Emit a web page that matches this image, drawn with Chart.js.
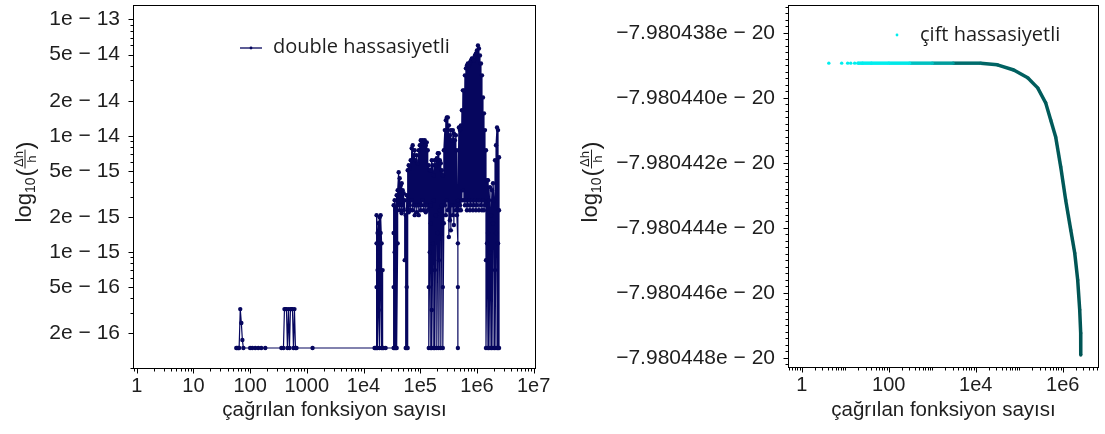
<!DOCTYPE html>
<html>
<head>
<meta charset="utf-8">
<script src="https://cdn.jsdelivr.net/npm/chart.js@4/dist/chart.umd.min.js"></script>
<style>
  body { margin: 0; background: #fff; }
  #wrap { position: relative; width: 1105px; height: 434px; }
  canvas { position: absolute; top: 0; }
</style>
</head>
<body>
<div id="wrap">
  <canvas id="left" width="552" height="434" style="left:0;width:552px;height:434px"></canvas>
  <canvas id="right" width="553" height="434" style="left:552px;width:553px;height:434px"></canvas>
</div>
<script>
// left panel: function-call count and the values visited at that count (in order)
const leftCalls = [57, 59, 62, 64, 67, 70, 73, 76, 100, 109, 123, 139, 157, 185,
  356, 387, 403, 420, 437, 455, 474, 494, 514, 536, 558, 581, 605, 630, 657, 1262,
  15650, 16310, 16990, 17690, 18430, 19200, 20000, 20830, 21700, 22600, 24520,
  33960, 35380, 36850, 38380, 39980, 41640, 43370, 45180, 47060, 49010, 51050,
  53180, 55390, 57690, 60090, 62590, 65200, 67910, 70730, 73680, 76740, 79930,
  83260, 86720, 90330, 94080, 98000, 102050, 106300, 110700, 115300, 120100,
  125100, 130300, 135700, 141400, 147300, 153400, 159800, 166400, 173400, 180600,
  188100, 195900, 204100, 212600, 221400, 230600, 240200, 250200, 260600, 271500,
  282800, 294400, 306700, 319500, 332800, 346600, 361000, 376100, 391700, 408000,
  425000, 442600, 461000, 480200, 500200, 521100, 542800, 565300, 588900, 613300,
  638900, 665400, 693100, 722000, 752000, 783300, 815900, 849900, 885200, 922000,
  960000, 1000000, 1041600, 1084900, 1130000, 1177000, 1226000, 1277000, 1330000,
  1385000, 1443000, 1503000, 1565000, 1630000, 1698000, 1769000, 1843000, 1920000,
  2000000, 2083000, 2170000, 2260000, 2354000, 2452000];

const leftErr = [
  [1.5e-16], [1.5e-16], [1.5e-16], [1.5e-16], [3.24e-16], [2.46e-16], [1.76e-16], [1.5e-16],
  [1.5e-16], [1.5e-16], [1.5e-16], [1.5e-16], [1.5e-16], [1.5e-16],
  [1.5e-16], [1.5e-16], [3.24e-16], [3.24e-16], [3.24e-16], [1.5e-16], [3.24e-16], [1.5e-16],
  [3.24e-16], [3.24e-16], [3.24e-16], [1.5e-16], [3.24e-16], [1.5e-16], [1.5e-16], [1.5e-16],
  [1.5e-16], [1.5e-16],
  [1.5e-16, 5.01e-16, 1.19e-15, 2.08e-15], [1.46e-15, 7.01e-16, 1.5e-16],
  [3.18e-16, 1.0e-15, 1.77e-15], [2.0e-15, 8.54e-16, 1.5e-16], [5.01e-16, 1.46e-15, 2.08e-15],
  [1.19e-15, 1.5e-16], [7.01e-16, 1.5e-16], [1.5e-16], [1.5e-16],
  [1.5e-16, 5.01e-16, 1.46e-15, 2.53e-15], [1.5e-16, 1.0e-15, 2.79e-15],
  [1.5e-16, 7.01e-16, 2.29e-15], [3.09e-15, 1.5e-16], [1.19e-15, 3.41e-15],
  [4.86e-15, 2.53e-15], [4.32e-15, 2.29e-15], [3.76e-15, 2.53e-15], [3.91e-15, 2.16e-15],
  [3.41e-15, 2.53e-15], [3.21e-15, 2.29e-15],
  [2.79e-15, 8.54e-16], [2.08e-15, 1.5e-16], [3.09e-15, 5.01e-16, 1.5e-16],
  [1.5e-16, 2.29e-15, 5.06e-15, 2.39e-15], [5.58e-15, 2.2e-15], [5.26e-15, 2.53e-15],
  [6.16e-15, 2.29e-15], [7.81e-15, 2.79e-15], [8.29e-15, 2.29e-15], [6.8e-15, 2.53e-15],
  [7.51e-15, 2.08e-15], [6.16e-15, 2.53e-15], [6.8e-15, 2.2e-15], [5.81e-15, 2.53e-15],
  [7.51e-15, 2.08e-15], [8.29e-15, 2.53e-15], [9.15e-15, 2.29e-15], [8.62e-15, 2.53e-15],
  [9.15e-15, 2.79e-15], [8.97e-15, 2.29e-15], [9.15e-15, 2.53e-15], [8.29e-15, 2.2e-15],
  [8.79e-15, 2.53e-15], [7.51e-15, 2.29e-15],
  [5.58e-15, 5.01e-16, 1.5e-16], [1.0e-15, 5.06e-15], [2.53e-15, 1.5e-16, 1.77e-15, 5.06e-15],
  [6.16e-15, 3.18e-16, 1.5e-16], [1.19e-15, 5.58e-15], [4.58e-15, 1.5e-16, 2.79e-15],
  [6.16e-15, 7.01e-16, 1.5e-16], [2.08e-15, 5.58e-15], [6.41e-15, 1.5e-16],
  [1.46e-15, 7.08e-15], [7.08e-15, 8.54e-16, 1.5e-16], [2.29e-15, 6.16e-15],
  [5.81e-15, 1.5e-16], [2.53e-15, 5.06e-15], [4.58e-15, 5.01e-16, 1.5e-16],
  [1.77e-15, 7.51e-15],
  [1.12e-14, 2.53e-15], [1.36e-14, 2.08e-15], [1.44e-14, 2.79e-15], [1.44e-14, 2.29e-15],
  [1.23e-14, 1.35e-15], [1.01e-14, 1.88e-15], [1.12e-14, 1.54e-15], [9.15e-15, 2.53e-15],
  [1.12e-14, 2.08e-15], [1.05e-14, 1.71e-15], [9.15e-15, 2.53e-15], [1.01e-14, 2.29e-15],
  [7.51e-15, 2.08e-15], [1.19e-15, 1.5e-16, 5.01e-16, 2.79e-15],
  [1.18e-14, 2.29e-15], [1.12e-14, 2.53e-15], [1.23e-14, 2.29e-15], [1.66e-14, 2.79e-15],
  [2.46e-14, 3.41e-15], [2.46e-14, 2.79e-15], [3.31e-14, 2.53e-15],
  [3.8e-14, 2.79e-15], [4.03e-14, 2.29e-15], [4.19e-14, 2.53e-15], [4.03e-14, 2.79e-15],
  [4.28e-14, 2.29e-15], [4.45e-14, 2.53e-15], [4.63e-14, 2.79e-15], [4.63e-14, 2.29e-15],
  [4.45e-14, 2.53e-15], [4.91e-14, 2.79e-15], [5.11e-14, 2.29e-15], [5.42e-14, 2.53e-15],
  [5.98e-14, 2.79e-15], [5.64e-14, 2.29e-15], [4.91e-14, 2.79e-15], [4.19e-14, 2.53e-15],
  [3.31e-14, 2.29e-15], [2.14e-14, 2.79e-15], [1.56e-14, 2.29e-15], [1.12e-14, 2.53e-15],
  [7.51e-15, 8.54e-16, 1.5e-16], [1.19e-15, 4.15e-15], [1.5e-16, 1.46e-15, 4.15e-15],
  [2.79e-15, 1.5e-16], [1.0e-15, 3.61e-15], [1.5e-16, 2.08e-15], [3.41e-15, 1.5e-16],
  [1.77e-15, 3.91e-15], [2.79e-15, 1.5e-16],
  [7.01e-16, 6.16e-15, 1.5e-16], [1.46e-15, 8.29e-15], [1.18e-14, 1.5e-16],
  [1.19e-15, 1.12e-14, 1.5e-16], [2.29e-15, 6.54e-15, 1.5e-16]
];

// right panel
const rightCalls = [4.2, 8.3, 11.4, 13.4, 16.5, 19.4, 25, 40, 100, 300, 1000, 3000, 13000,
  31500, 75000, 157000, 266000, 406000, 530000, 690000, 900000, 1170000, 1530000,
  1890000, 2210000, 2460000, 2590000, 2600000];
const rightVal = [-7.98043893e-20, -7.98043893e-20, -7.98043893e-20, -7.98043893e-20,
  -7.98043893e-20, -7.98043893e-20, -7.98043893e-20, -7.98043893e-20, -7.98043893e-20,
  -7.98043893e-20, -7.98043893e-20, -7.98043893e-20, -7.98043893e-20,
  -7.98043898e-20, -7.98043914e-20, -7.98043938e-20, -7.98043969e-20, -7.98044015e-20,
  -7.98044068e-20, -7.9804412e-20, -7.98044212e-20, -7.98044314e-20, -7.98044406e-20,
  -7.98044477e-20, -7.9804456e-20, -7.98044652e-20, -7.98044723e-20, -7.98044791e-20];

const leftXTicks = [1, 10, 100, 1000, 1e4, 1e5, 1e6, 1e7];
const leftXLabels = ['1', '10', '100', '1000', '1e4', '1e5', '1e6', '1e7'];
const leftYTicks = [2e-16, 5e-16, 1e-15, 2e-15, 5e-15, 1e-14, 2e-14, 5e-14, 1e-13];
const rightXTicks = [1, 100, 1e4, 1e6];
const rightXLabels = ['1', '100', '1e4', '1e6'];
const rightYTicks = [-7.980438e-20, -7.98044e-20, -7.980442e-20, -7.980444e-20, -7.980446e-20, -7.980448e-20];

const NAVY = '#06065e';
const INK = '#1e1e1e';
const SANS = '"Liberation Sans", Arial, sans-serif';

function expLabel(v) {
  const [m, e] = v.toExponential(0).split('e');
  return m + 'e \u2212 ' + Math.abs(+e);
}
function bigLabel(v) {
  return '\u2212' + (-v / 1e-20).toFixed(6) + 'e \u2212 20';
}
function isIn(list, v) {
  return list.some(m => Math.abs(m - v) <= Math.abs(m) * 1e-9);
}
function logMinors(min, max, majors) {
  const out = [];
  for (let e = Math.floor(Math.log10(min)); e <= Math.ceil(Math.log10(max)); e++) {
    for (let k = 1; k < 10; k++) {
      const v = k * Math.pow(10, e);
      if (v >= min && v <= max && !isIn(majors, v)) out.push(v);
    }
  }
  return out;
}
function tealAt(x) {
  const lx = Math.log10(x);
  const t = Math.min(1, Math.max(0, (lx - 2.4) / 1.8));
  const u = Math.min(1, Math.max(0, (lx - 4.2) / 2.2));
  const g = Math.round(238 - 135 * t - 18 * u);
  return 'rgb(0,' + g + ',' + g + ')';
}

function drawLogTitle(ctx, cx, cy) {
  ctx.save();
  ctx.translate(cx, cy);
  ctx.rotate(-Math.PI / 2);
  ctx.fillStyle = INK;
  ctx.textAlign = 'left';
  ctx.textBaseline = 'alphabetic';
  const f = s => s + 'px ' + SANS;
  ctx.font = f(22); const wLog = ctx.measureText('log').width;
  ctx.font = f(14); const wSub = ctx.measureText('10').width;
  ctx.font = f(24); const wPar = ctx.measureText('(').width;
  ctx.font = f(13); const wNum = ctx.measureText('\u0394h').width, wDen = ctx.measureText('h').width;
  const wFr = Math.max(wNum, wDen) + 3;
  let x = -(wLog + wSub + 1 + 2 * wPar + wFr) / 2;
  ctx.font = f(22); ctx.fillText('log', x, 7); x += wLog;
  ctx.font = f(14); ctx.fillText('10', x, 11); x += wSub + 1;
  ctx.font = f(24); ctx.fillText('(', x, 9); x += wPar;
  ctx.font = f(13);
  ctx.fillText('\u0394h', x + (wFr - wNum) / 2, -1);
  ctx.fillRect(x, 1, wFr, 1);
  ctx.fillText('h', x + (wFr - wDen) / 2, 12);
  x += wFr;
  ctx.font = f(24); ctx.fillText(')', x, 9);
  ctx.restore();
}

const frame = {
  id: 'frame',
  afterDraw(chart, args, o) {
    const { ctx, chartArea: a } = chart;
    const xs = chart.scales.x, ys = chart.scales.y;
    const L = Math.round(a.left) + 0.5, R = Math.round(a.right) - 0.5;
    const T = Math.round(a.top) + 0.5, B = Math.round(a.bottom) - 0.5;
    ctx.save();
    ctx.strokeStyle = '#000';
    ctx.lineWidth = 1;
    ctx.beginPath();
    const xm = (v, len) => { const p = Math.round(xs.getPixelForValue(v)) + 0.5; ctx.moveTo(p, B); ctx.lineTo(p, B + len); };
    const ym = (v, len) => { const p = Math.round(ys.getPixelForValue(v)) + 0.5; ctx.moveTo(L, p); ctx.lineTo(L - len, p); };
    o.xMajor.forEach(v => xm(v, 5));
    o.xMinor.forEach(v => xm(v, 3));
    o.yMajor.forEach(v => ym(v, 5));
    o.yMinor.forEach(v => ym(v, 3));
    ctx.stroke();
    ctx.strokeRect(L, T, R - L, B - T);

    // axis titles
    ctx.fillStyle = INK;
    ctx.font = '20.5px ' + SANS;
    ctx.textAlign = 'center';
    ctx.textBaseline = 'alphabetic';
    ctx.fillText('\u00e7a\u011fr\u0131lan fonksiyon say\u0131s\u0131', (a.left + a.right) / 2, 416);
    drawLogTitle(ctx, o.yTitleX, 182);

    // legend
    const lg = o.legend;
    ctx.textAlign = 'left';
    ctx.font = '20px "Open Sans", sans-serif';
    ctx.fillText(lg.text, lg.textX, lg.textY);
    if (lg.line) {
      ctx.strokeStyle = lg.color;
      ctx.lineWidth = 1.3;
      ctx.beginPath();
      ctx.moveTo(lg.x - 11, lg.y); ctx.lineTo(lg.x + 11, lg.y);
      ctx.stroke();
    }
    ctx.fillStyle = lg.color;
    ctx.beginPath();
    ctx.arc(lg.x, lg.y, 1.4, 0, Math.PI * 2);
    ctx.fill();
    ctx.restore();
  }
};

// fixed ticks, and keep the requested range (no rounding out to ticks)
function pinTicks(ticks, min, max) {
  return s => {
    s.ticks = ticks.map(v => ({ value: v }));
    s.min = min;
    s.max = max;
  };
}
// fixed axis size and no extra room for overhanging labels
function pinSize(key, size) {
  return s => {
    s[key] = size;
    s.paddingTop = 0; s.paddingBottom = 0; s.paddingLeft = 0; s.paddingRight = 0;
  };
}

function axisX(min, max, ticks, labels, height) {
  return {
    type: 'logarithmic', min, max, bounds: 'data',
    grid: { display: false, drawTicks: false },
    border: { display: false },
    afterBuildTicks: pinTicks(ticks, min, max),
    afterFit: pinSize('height', height),
    ticks: {
      autoSkip: false, maxRotation: 0, padding: 5, color: INK,
      font: { family: SANS, size: 20 },
      callback: (v, i) => labels[i]
    }
  };
}

// left chart
const leftPts = [];
leftCalls.forEach((x, i) => leftErr[i].forEach(y => leftPts.push({ x, y })));
const lxMin = 0.86, lxMax = 1.1e7, lyMin = 0.99e-16, lyMax = 1.332e-13;

new Chart(document.getElementById('left'), {
  type: 'scatter',
  data: {
    datasets: [{
      label: 'double hassasiyetli',
      data: leftPts,
      showLine: true,
      borderColor: NAVY,
      borderWidth: 1.2,
      pointRadius: 2.2,
      pointBorderWidth: 0,
      pointBackgroundColor: NAVY
    }]
  },
  options: {
    responsive: false,
    animation: false,
    layout: { padding: { left: 0, top: 5, right: 16, bottom: 0 } },
    scales: {
      x: axisX(lxMin, lxMax, leftXTicks, leftXLabels, 65),
      y: {
        type: 'logarithmic', min: lyMin, max: lyMax, bounds: 'data',
        grid: { display: false, drawTicks: false },
        border: { display: false },
        afterBuildTicks: pinTicks(leftYTicks, lyMin, lyMax),
        afterFit: pinSize('width', 133),
        ticks: { padding: 13, color: INK, font: { family: SANS, size: 21 }, callback: v => expLabel(v) }
      }
    },
    plugins: {
      legend: { display: false },
      tooltip: { enabled: false },
      frame: {
        xMajor: leftXTicks,
        xMinor: logMinors(lxMin, lxMax, leftXTicks),
        yMajor: leftYTicks,
        yMinor: logMinors(lyMin, lyMax, leftYTicks),
        yTitleX: 23.5,
        legend: { text: 'double hassasiyetli', x: 251, y: 48, textX: 273, textY: 53, color: NAVY, line: true }
      }
    }
  },
  plugins: [frame]
});

// right chart
const rightPts = rightCalls.map((x, i) => ({ x, y: rightVal[i] }));
const rxMin = 0.484, rxMax = 6.83e6, ryMin = -7.98044831e-20, ryMax = -7.98043714e-20;
const rightYMinor = [];
for (let i = -6; i <= 56; i++) {
  const v = -7.980438e-20 - i * 0.2e-26;
  if (i % 10 !== 0 && v >= ryMin && v <= ryMax) rightYMinor.push(v);
}

new Chart(document.getElementById('right'), {
  type: 'scatter',
  data: {
    datasets: [{
      label: '\u00e7ift hassasiyetli',
      data: rightPts,
      showLine: true,
      borderWidth: 3.5,
      borderColor: 'rgb(0,100,100)',
      segment: {
        borderColor: s => rightCalls[s.p0DataIndex] < 17 ? 'rgba(0,0,0,0)' : tealAt(rightCalls[s.p1DataIndex])
      },
      pointRadius: 1.7,
      pointBorderWidth: 0,
      pointBackgroundColor: c => tealAt(rightCalls[c.dataIndex] || 1)
    }]
  },
  options: {
    responsive: false,
    animation: false,
    layout: { padding: { left: 0, top: 5, right: 6, bottom: 0 } },
    scales: {
      x: axisX(rxMin, rxMax, rightXTicks, rightXLabels, 66),
      y: {
        type: 'linear', min: ryMin, max: ryMax, bounds: 'data',
        grid: { display: false, drawTicks: false },
        border: { display: false },
        afterBuildTicks: pinTicks(rightYTicks, ryMin, ryMax),
        afterFit: pinSize('width', 236),
        ticks: { padding: 13, color: INK, font: { family: SANS, size: 21 }, callback: v => bigLabel(v) }
      }
    },
    plugins: {
      legend: { display: false },
      tooltip: { enabled: false },
      frame: {
        xMajor: rightXTicks,
        xMinor: logMinors(rxMin, rxMax, rightXTicks),
        yMajor: rightYTicks,
        yMinor: rightYMinor,
        yTitleX: 38,
        legend: { text: '\u00e7ift hassasiyetli', x: 345, y: 35, textX: 368, textY: 41, color: 'rgb(0,238,238)', line: false }
      }
    }
  },
  plugins: [frame]
});
</script>
</body>
</html>
